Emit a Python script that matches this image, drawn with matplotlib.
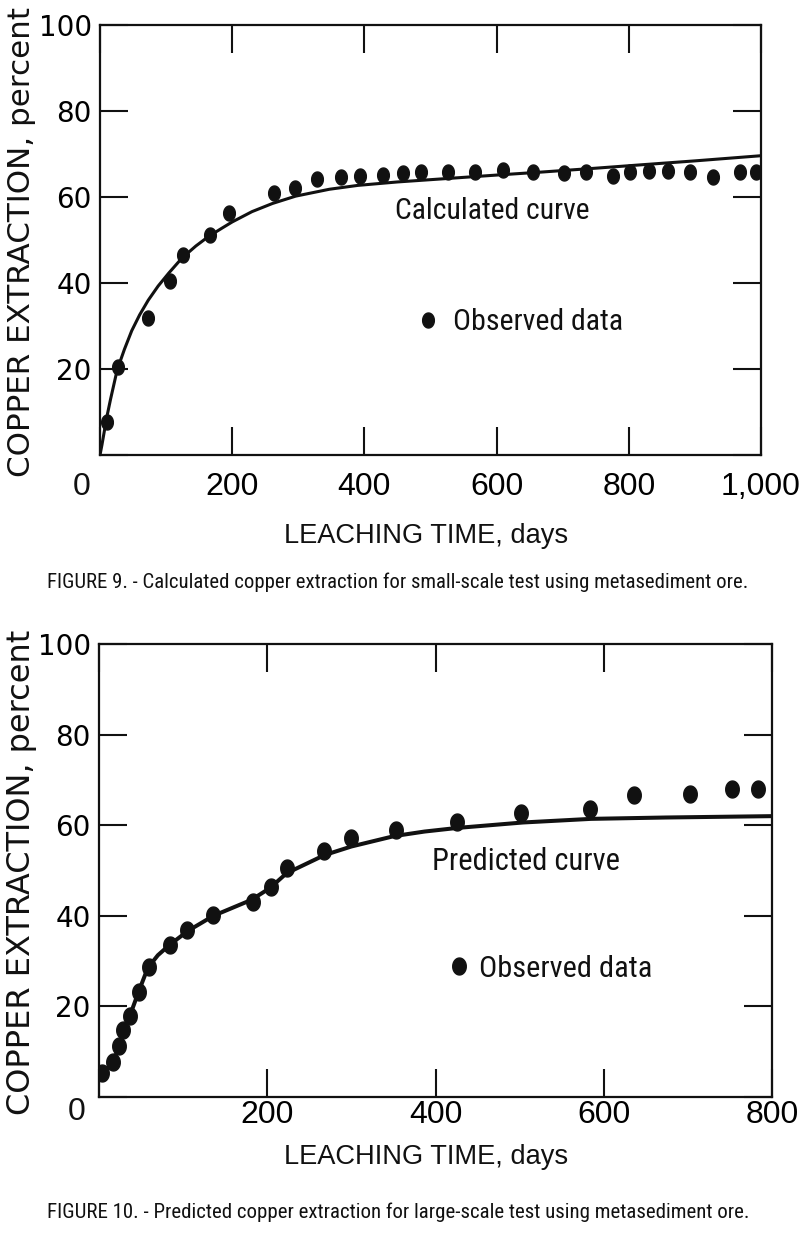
import numpy as np
import matplotlib
matplotlib.use("Agg")
import matplotlib.pyplot as plt
from matplotlib import font_manager

# ---------------- data ----------------
fig9_obs_days = [10, 27, 73, 106, 125, 166, 195, 263, 295, 328, 364, 393, 428, 458, 485,
                 527, 567, 609, 655, 702, 736, 776, 802, 831, 860, 893, 928, 968, 993]
fig9_obs_pct = [7.7, 20.4, 31.8, 40.5, 46.5, 51.2, 56.2, 60.9, 62.0, 64.1, 64.7, 64.9, 65.1,
                65.5, 65.9, 65.9, 65.7, 66.3, 65.9, 65.5, 65.9, 65.0, 65.9, 66.1, 66.1, 65.7,
                64.7, 65.7, 65.9]
fig9_curve_days = [0, 3, 10, 16, 26, 37, 48, 60, 73, 88, 104, 124, 145, 164, 185, 200, 230,
                   261, 296, 347, 390, 450, 516, 600, 668, 750, 820, 900, 1000]
fig9_curve_pct = [0, 2.4, 8.6, 13.0, 19.8, 24.6, 28.9, 32.6, 36.0, 39.3, 42.3, 45.8, 48.6,
                  50.8, 52.8, 54.2, 56.6, 58.5, 60.2, 61.8, 62.7, 63.5, 64.2, 65.1, 65.8,
                  66.7, 67.5, 68.4, 69.6]

fig10_obs_days = [3, 17, 24, 29, 37, 47, 59, 84, 105, 136, 183, 204, 223, 267, 299, 353,
                  426, 502, 584, 636, 703, 752, 783]
fig10_obs_pct = [5.2, 7.8, 11.3, 14.8, 17.9, 23.2, 28.8, 33.6, 36.9, 40.2, 43.1, 46.3, 50.5,
                 54.4, 57.1, 58.9, 60.8, 62.8, 63.5, 66.7, 66.9, 68.1, 68.1]
fig10_curve_days = [0, 7, 17, 23, 29, 37, 47, 58, 70, 84, 106, 136, 181, 203, 223, 268, 300,
                    351, 387, 426, 504, 585, 674, 800]
fig10_curve_pct = [3.9, 5.6, 7.8, 10.7, 14.4, 18.1, 23.2, 28.5, 31.3, 33.6, 36.7, 40.0, 43.5,
                   46.1, 49.4, 53.4, 55.3, 57.6, 58.6, 59.4, 60.6, 61.4, 61.7, 62.0]

fig9_xticks = [0, 200, 400, 600, 800, 1000]
fig9_xticklabels = ["", "200", "400", "600", "800", "1,000"]
fig10_xticks = [0, 200, 400, 600, 800]
fig10_xticklabels = ["", "200", "400", "600", "800"]
yticks = [0, 20, 40, 60, 80, 100]
yticklabels = ["", "20", "40", "60", "80", "100"]

ylabel_text = "COPPER EXTRACTION, percent"
xlabel_text = "LEACHING TIME, days"
caption9 = "FIGURE 9. - Calculated copper extraction for small-scale test using metasediment ore."
caption10 = "FIGURE 10. - Predicted copper extraction for large-scale test using metasediment ore."
curve9_label = "Calculated curve"
curve10_label = "Predicted curve"
obs_label = "Observed data"

# ---------------- fonts ----------------
names = {f.name for f in font_manager.fontManager.ttflist}
def pick(cands, default="DejaVu Sans"):
    for c in cands:
        if c in names:
            return c
    return default

NARROW = pick(["Liberation Sans Narrow", "Roboto Condensed", "Open Sans Condensed"], "Liberation Sans")
SANS = pick(["Liberation Sans"], "DejaVu Sans")
GEO = "DejaVu Sans"

W, H = 800, 1240
fig = plt.figure(figsize=(W / 100, H / 100), dpi=100)
fig.patch.set_facecolor("white")

def px_axes(l, t, r, b):
    return fig.add_axes([l / W, 1 - b / H, (r - l) / W, (b - t) / H])

ax1 = px_axes(100, 25, 761, 455)
ax2 = px_axes(99, 644, 772, 1097)

tt = np.linspace(0, 2 * np.pi, 40)
def ellipse(ratio):
    return list(zip(ratio * np.cos(tt), np.sin(tt)))

renderer = fig.canvas.get_renderer()

def fit(t, target):
    bb = t.get_window_extent(renderer)
    t.set_fontsize(t.get_fontsize() * target / bb.width)

def style_axes(ax, xmax, xticks, xlabels, xpad):
    ax.set_xlim(0, xmax)
    ax.set_ylim(0, 100)
    ax.set_xticks(xticks)
    ax.set_xticklabels(xlabels, fontfamily=SANS, fontsize=23)
    ax.set_yticks(yticks)
    ax.set_yticklabels(yticklabels, fontfamily=GEO, fontsize=20)
    ax.tick_params(axis="both", direction="in", length=20, width=1.5,
                   top=True, right=True, color="#111111")
    ax.tick_params(axis="x", pad=xpad)
    ax.tick_params(axis="y", pad=6)
    for s in ax.spines.values():
        s.set_linewidth(1.6)
        s.set_color("#111111")

def panel(ax, cd, cp, od, op, xmax, xticks, xlabels, xpad, lw, ms, ratio,
          curve_label, curve_lab_px, curve_lab_w, leg_dot_px, leg_text_w,
          zero_off, ylab_x, ylab_cy, ylab_len, xlab_y, xlab_cx, cap, cap_y, cap_w):
    style_axes(ax, xmax, xticks, xlabels, xpad)
    ax.plot(cd, cp, color="#111111", lw=lw, solid_capstyle="round", zorder=2)
    obs, = ax.plot(od, op, linestyle="none", marker=ellipse(ratio), ms=ms,
                   color="#111111", mec="#111111", zorder=3, label=obs_label)
    # zero tick label at the corner
    ax.annotate("0", xy=(0, 0), xycoords="data", xytext=zero_off,
                textcoords="offset pixels", ha="center", va="center",
                fontfamily=SANS, fontsize=23, color="#111111")
    # curve label
    t = fig.text(curve_lab_px[0] / W, 1 - curve_lab_px[1] / H, curve_label,
                 ha="left", va="center", fontfamily=NARROW, fontsize=18, color="#111111")
    fit(t, curve_lab_w)
    # legend for observed data (font sized to the reference width)
    tmp = fig.text(0, 0, obs_label, fontfamily=NARROW, fontsize=18)
    fit(tmp, leg_text_w)
    fs = tmp.get_fontsize()
    tmp.remove()
    fs_px = fs * 100 / 72
    hl = 0.6
    gap = leg_dot_px[2]
    hp = gap / fs_px - 0.5 * hl
    left_px = leg_dot_px[0] - 0.5 * hl * fs_px
    leg = ax.legend(handles=[obs], loc="center left",
                    bbox_to_anchor=(left_px / W, 1 - leg_dot_px[1] / H),
                    bbox_transform=fig.transFigure, frameon=False,
                    handlelength=hl, handletextpad=hp, borderpad=0, borderaxespad=0,
                    prop={"family": NARROW, "size": fs})
    for txt in leg.get_texts():
        txt.set_color("#111111")
    # y label
    yl = fig.text(ylab_x / W, 1 - ylab_cy / H, ylabel_text, rotation=90,
                  ha="center", va="center", fontfamily=GEO, fontsize=20, color="#111111")
    bb = yl.get_window_extent(renderer)
    yl.set_fontsize(yl.get_fontsize() * ylab_len / bb.height)
    # x label
    xl = fig.text(xlab_cx / W, 1 - xlab_y / H, xlabel_text, ha="center", va="center",
                  fontfamily=SANS, fontsize=20, color="#111111")
    fit(xl, 283)
    # caption
    c = fig.text(398 / W, 1 - cap_y / H, cap, ha="center", va="center",
                 fontfamily=NARROW, fontsize=14, color="#111111")
    fit(c, cap_w)

panel(ax1, fig9_curve_days, fig9_curve_pct, fig9_obs_days, fig9_obs_pct, 1000,
      fig9_xticks, fig9_xticklabels, 12, 2.2, 10.8, 0.78,
      curve9_label, (395, 211), 195, (428, 322, 25), 170,
      (-18, -32), 22, 242, 470, 536, 426, caption9, 582, 707)
panel(ax2, fig10_curve_days, fig10_curve_pct, fig10_obs_days, fig10_obs_pct, 800,
      fig10_xticks, fig10_xticklabels, 2, 2.9, 12.2, 0.8,
      curve10_label, (432, 861), 188, (459, 969, 20), 173,
      (-22, -15), 22, 872, 485, 1157, 426, caption10, 1212, 709)

fig.savefig("out.png", dpi=100, facecolor="white")
